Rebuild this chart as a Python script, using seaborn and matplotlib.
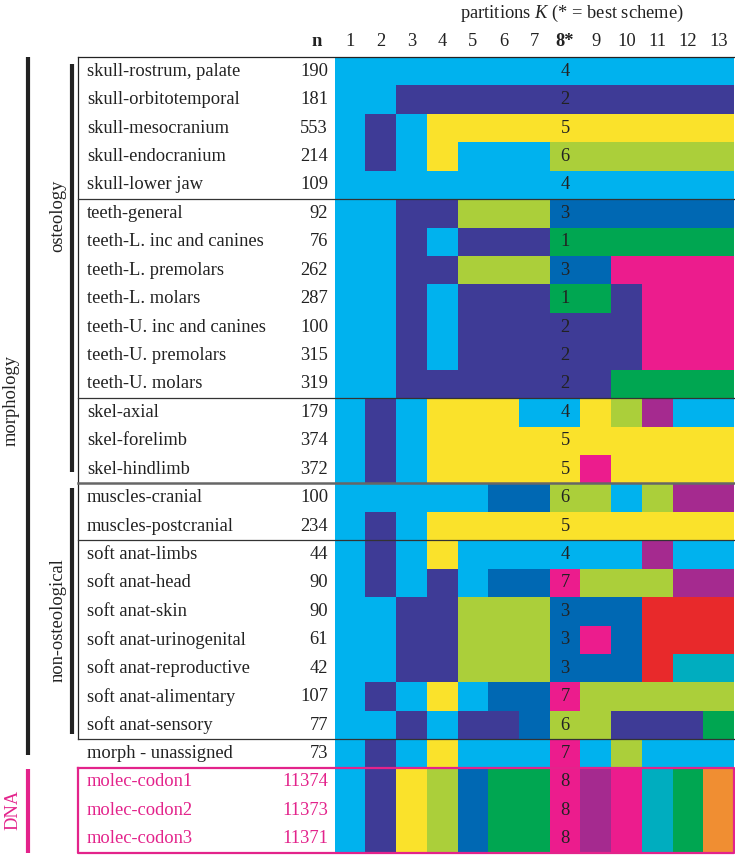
import numpy as np
import seaborn as sns
import matplotlib.pyplot as plt
from matplotlib.colors import ListedColormap
from matplotlib.transforms import blended_transform_factory

# row labels and character counts
labels = ['skull-rostrum, palate', 'skull-orbitotemporal', 'skull-mesocranium',
          'skull-endocranium', 'skull-lower jaw', 'teeth-general',
          'teeth-L. inc and canines', 'teeth-L. premolars', 'teeth-L. molars',
          'teeth-U. inc and canines', 'teeth-U. premolars', 'teeth-U. molars',
          'skel-axial', 'skel-forelimb', 'skel-hindlimb', 'muscles-cranial',
          'muscles-postcranial', 'soft anat-limbs', 'soft anat-head',
          'soft anat-skin', 'soft anat-urinogenital', 'soft anat-reproductive',
          'soft anat-alimentary', 'soft anat-sensory', 'morph - unassigned',
          'molec-codon1', 'molec-codon2', 'molec-codon3']
n_chars = [190, 181, 553, 214, 109, 92, 76, 262, 287, 100, 315, 319,
           179, 374, 372, 100, 234, 44, 90, 90, 61, 42, 107, 77, 73,
           11374, 11373, 11371]

# partition number in the best scheme (K = 8)
best = [4, 2, 5, 6, 4, 3, 1, 3, 1, 2, 2, 2, 4, 5, 5, 6, 5, 4, 7, 3, 3, 3,
        7, 6, 7, 8, 8, 8]

# colour of each cell for K = 1..13 (one letter per column)
cells = [
    'CCCCCCCCCCCCC',
    'CCIIIIIIIIIII',
    'CICYYYYYYYYYY',
    'CICYCCCLLLLLL',
    'CCCCCCCCCCCCC',
    'CCIILLLBBBBBB',
    'CCICIIIGGGGGG',
    'CCIILLLBBMMMM',
    'CCICIIIGGIMMM',
    'CCICIIIIIIMMM',
    'CCICIIIIIIMMM',
    'CCIIIIIIIGGGG',
    'CICYYYCCYLPCC',
    'CICYYYYYYYYYY',
    'CICYYYYYMYYYY',
    'CCCCCBBLLCLPP',
    'CICYYYYYYYYYY',
    'CICYCCCCCCPCC',
    'CICICBBMLLLPP',
    'CCIILLLBBBRRR',
    'CCIILLLBMBRRR',
    'CCIILLLBBBRTT',
    'CICYCBBMLLLLL',
    'CCICIIBLLIIIG',
    'CICYCCCMCLCCC',
    'CIYLBGGMPMTGO',
    'CIYLBGGMPMTGO',
    'CIYLBGGMPMTGO',
]
partitions = ['1', '2', '3', '4', '5', '6', '7', '8*', '9', '10', '11', '12', '13']

palette = {'C': '#00B2EE', 'I': '#3E3B96', 'B': '#0068B3', 'Y': '#FAE22B',
           'L': '#ABCF3A', 'G': '#00A651', 'M': '#EC1C8D', 'R': '#E8292B',
           'P': '#A52A8F', 'T': '#00ADBF', 'O': '#F08E32'}
keys = list(palette)
codes = np.array([[keys.index(c) for c in row] for row in cells])
annot = np.full(codes.shape, '', dtype=object)
annot[:, 7] = [str(b) for b in best]

pink = '#E3238B'
ink = '#222222'
fs = 13.3
plt.rcParams['font.family'] = ['Liberation Serif', 'DejaVu Serif']
plt.rcParams['mathtext.fontset'] = 'custom'
plt.rcParams['mathtext.it'] = 'Liberation Serif:italic'
plt.rcParams['mathtext.rm'] = 'Liberation Serif'

W, H = 735, 855
fig = plt.figure(figsize=(W / 100, H / 100), dpi=100)
# overlay in pixel coordinates for the frame elements
ov = fig.add_axes([0, 0, 1, 1])
ov.set_xlim(0, W)
ov.set_ylim(H, 0)
ov.axis('off')

x0, x1, y0, y1 = 334.7, 734, 57, 853
ax = fig.add_axes([x0 / W, (H - y1) / H, (x1 - x0) / W, (y1 - y0) / H])
sns.heatmap(codes, cmap=ListedColormap(list(palette.values())),
            vmin=-0.5, vmax=len(keys) - 0.5, cbar=False, ax=ax,
            annot=annot, fmt='', annot_kws={'fontsize': fs, 'color': ink},
            xticklabels=False, yticklabels=False)
ax.set_xlabel('')
ax.set_ylabel('')

tr = blended_transform_factory(ov.transData, ax.transData)

for i, (lab, n) in enumerate(zip(labels, n_chars)):
    col = pink if lab.startswith('molec') else ink
    ax.text(87, i + 0.5, lab, transform=tr, ha='left', va='center',
            fontsize=fs, color=col, clip_on=False)
    ax.text(328, i + 0.5, str(n), transform=tr, ha='right', va='center',
            fontsize=fs, color=col, clip_on=False)

# column headers
for j, p in enumerate(partitions):
    ax.text(j + 0.5, -0.55, p, ha='center', va='center', fontsize=fs,
            fontweight='bold' if '*' in p else 'normal', color=ink,
            clip_on=False)
ax.text(317, -0.55, 'n', transform=tr, ha='center', va='center',
        fontsize=fs, fontweight='bold', color=ink, clip_on=False)
ov.text(572, 13, r'partitions $\mathit{K}$ (* = best scheme)', ha='center',
        va='center', fontsize=fs, color=ink)

# frame and separators
ax.plot([78, 78], [0, 24], transform=tr, color=ink, lw=0.9, clip_on=False)
ax.plot([78, 734], [0, 0], transform=tr, color=ink, lw=0.9, clip_on=False)
for r in [5, 12, 17, 24]:
    ax.plot([78, 734], [r, r], transform=tr, color='#333333', lw=0.9,
            clip_on=False)
ax.plot([78, 734], [15, 15], transform=tr, color='#666666', lw=1.8,
        clip_on=False)
ax.plot([78, 78, 734, 734, 78], [25, 28, 28, 25, 25], transform=tr,
        color=pink, lw=1.6, clip_on=False)

# group bars
ax.plot([28, 28], [0, 24.55], transform=tr, color=ink, lw=3,
        solid_capstyle='butt', clip_on=False)
ax.plot([72, 72], [0.25, 14.6], transform=tr, color=ink, lw=3,
        solid_capstyle='butt', clip_on=False)
ax.plot([72, 72], [15.15, 23.8], transform=tr, color=ink, lw=3,
        solid_capstyle='butt', clip_on=False)
ax.plot([28, 28], [25.05, 28], transform=tr, color=pink, lw=3,
        solid_capstyle='butt', clip_on=False)

ax.text(11, 12.1, 'morphology', transform=tr, rotation=90, ha='center',
        va='center', fontsize=fs, color=ink, clip_on=False)
ax.text(58, 5.6, 'osteology', transform=tr, rotation=90, ha='center',
        va='center', fontsize=fs, color=ink, clip_on=False)
ax.text(58, 19.8, 'non-osteological', transform=tr, rotation=90, ha='center',
        va='center', fontsize=fs, color=ink, clip_on=False)
ax.text(13, 26.5, 'DNA', transform=tr, rotation=90, ha='center',
        va='center', fontsize=fs, color=pink, clip_on=False)

fig.savefig('out.png', dpi=100)
